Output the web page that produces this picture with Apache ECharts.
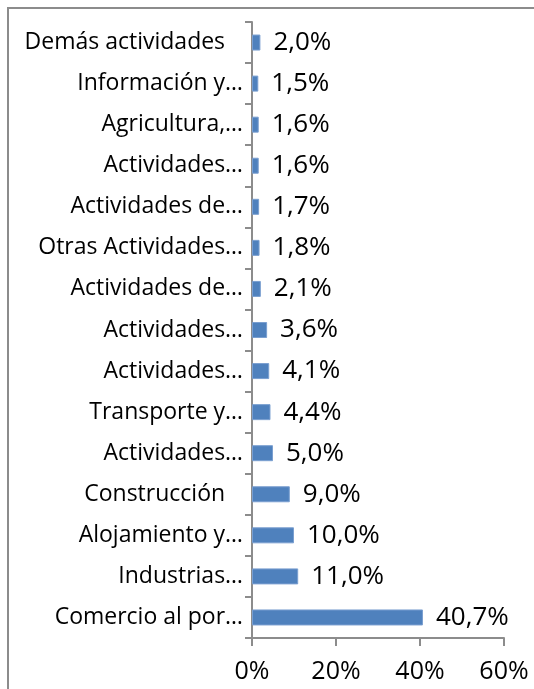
<!DOCTYPE html>
<html>
<head>
<meta charset="utf-8">
<script src="https://cdn.jsdelivr.net/npm/echarts@6/dist/echarts.min.js"></script>
<style>
  html, body { margin: 0; padding: 0; background: #fff; }
  #frame { position: absolute; left: 7px; top: 7px; width: 600px; height: 750px; border: 2px solid #8c8c8c; box-sizing: border-box; }
  #barChart { position: absolute; left: 0; top: 0; width: 534px; height: 689px; }
</style>
</head>
<body>
<div id="frame"></div>
<div id="barChart"></div>
<script>
// categorías de abajo hacia arriba
var categories = ['Comercio al por…', 'Industrias…', 'Alojamiento y…', 'Construcción\u00a0\u00a0\u00a0', 'Actividades…',
  'Transporte y…', 'Actividades…', 'Actividades…', 'Actividades de…', 'Otras Actividades…',
  'Actividades de…', 'Actividades…', 'Agricultura,…', 'Información y…', 'Demás actividades\u00a0\u00a0\u00a0'];
var values = [40.7, 11.0, 10.0, 9.0, 5.0, 4.4, 4.1, 3.6, 2.1, 1.8, 1.7, 1.6, 1.6, 1.5, 2.0];
var xTicks = [0, 20, 40, 60];

var fontFam = 'Open Sans';
var barChart = echarts.init(document.getElementById('barChart'));
barChart.setOption({
  animation: false,
  grid: { left: 252, right: 30, top: 22, bottom: 51 },
  xAxis: {
    type: 'value',
    min: xTicks[0],
    max: xTicks[xTicks.length - 1],
    interval: 20,
    splitLine: { show: false },
    axisLine: { show: true, lineStyle: { color: '#8c8c8c', width: 2 } },
    axisTick: { show: true, length: 8, lineStyle: { color: '#8c8c8c', width: 2 } },
    axisLabel: { formatter: '{value}%', color: '#000', fontFamily: fontFam, fontSize: 25, margin: 21 }
  },
  yAxis: {
    type: 'category',
    data: categories,
    axisLine: { show: true, lineStyle: { color: '#8c8c8c', width: 2 } },
    axisTick: { show: true, length: 7, lineStyle: { color: '#8c8c8c', width: 2 } },
    axisLabel: { color: '#000', fontFamily: fontFam, fontSize: 23, margin: 9 }
  },
  series: [{
    type: 'bar',
    data: values,
    barWidth: 16,
    itemStyle: { color: '#4F81BD', borderColor: '#7a9fd0', borderWidth: 1 },
    label: {
      show: true,
      position: 'right',
      distance: 13,
      color: '#000',
      fontFamily: fontFam,
      fontSize: 26,
      formatter: function (p) { return p.value.toFixed(1).replace('.', ',') + '%'; }
    }
  }]
});
</script>
</body>
</html>
